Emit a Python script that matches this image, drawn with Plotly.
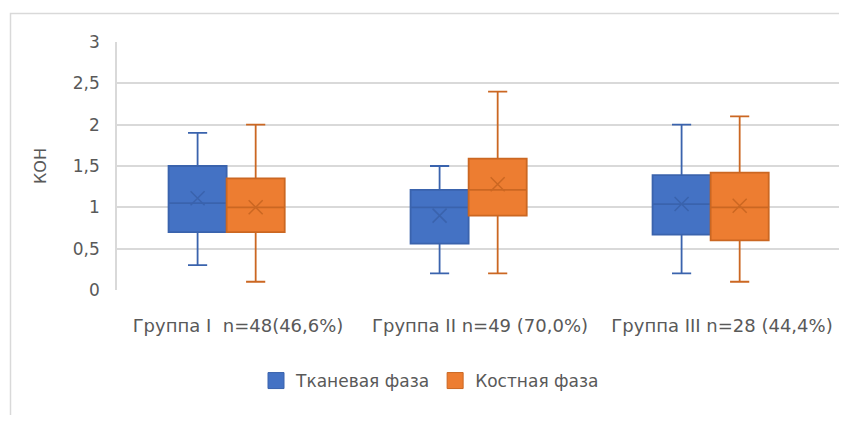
import plotly.graph_objects as go

groups = ["Группа I  n=48(46,6%)", "Группа II n=49 (70,0%)", "Группа III n=28 (44,4%)"]
series_names = ["Тканевая фаза", "Костная фаза"]

tissue_lower = [0.3, 0.2, 0.2]
tissue_q1 = [0.7, 0.56, 0.67]
tissue_median = [1.05, 1.0, 1.04]
tissue_q3 = [1.5, 1.21, 1.39]
tissue_upper = [1.9, 1.5, 2.0]
tissue_mean = [1.11, 0.9, 1.04]

bone_lower = [0.1, 0.2, 0.1]
bone_q1 = [0.7, 0.9, 0.6]
bone_median = [1.0, 1.21, 1.0]
bone_q3 = [1.35, 1.59, 1.42]
bone_upper = [2.0, 2.4, 2.1]
bone_mean = [1.0, 1.28, 1.02]

y_ticks = [0, 0.5, 1, 1.5, 2, 2.5, 3]

FONT = "DejaVu Sans"
TXT = "#595959"
GRID = "#D9D9D9"

series = [
    dict(name=series_names[0], lower=tissue_lower, q1=tissue_q1, med=tissue_median,
         q3=tissue_q3, upper=tissue_upper, mean=tissue_mean,
         fill="#4472C4", line="#3A63AD", off=-0.167),
    dict(name=series_names[1], lower=bone_lower, q1=bone_q1, med=bone_median,
         q3=bone_q3, upper=bone_upper, mean=bone_mean,
         fill="#ED7D31", line="#CB6722", off=0.073),
]

fig = go.Figure()
for s in series:
    xs = [i + s["off"] for i in range(len(groups))]
    fig.add_trace(go.Box(
        name=s["name"], x=xs, q1=s["q1"], median=s["med"], q3=s["q3"],
        lowerfence=s["lower"], upperfence=s["upper"],
        width=0.24, whiskerwidth=0.33, fillcolor=s["fill"],
        line=dict(color=s["line"], width=1.8), boxpoints=False,
        showlegend=False, hoverinfo="skip",
    ))
    fig.add_trace(go.Scatter(
        x=xs, y=s["mean"], mode="markers", showlegend=False,
        marker=dict(symbol="x-thin-open", size=14, color=s["line"],
                    line=dict(color=s["line"], width=1.5)),
        hoverinfo="skip",
    ))
    # legend entry (square swatch)
    fig.add_trace(go.Scatter(
        x=[None], y=[None], mode="markers", name=s["name"],
        marker=dict(symbol="square", size=16, color=s["fill"],
                    line=dict(color=s["line"], width=1)),
    ))

OFF = 8  # page body margin
W, H = 847 - 2 * OFF, 423 - 2 * OFF
L, T, B = 117 - OFF, 42 - OFF, 290 - OFF
R = W
CAT_PX = 242.0  # pixels per category
pw, ph = R - L, B - T
x_hi = -0.5 + pw / CAT_PX


def px_x(p):
    return (p - OFF - L) / pw


def px_y(p):
    return (B - (p - OFF)) / ph


fig.update_layout(
    width=W, height=H,
    margin=dict(l=L, r=0, t=T, b=H - B),
    paper_bgcolor="white", plot_bgcolor="white",
    separators=", ",
    boxmode="overlay",
    font=dict(family=FONT, color=TXT, size=17),
    xaxis=dict(
        range=[-0.5, x_hi], tickvals=[0, 1, 2], ticktext=groups,
        showgrid=False, zeroline=False, showline=False,
        ticks="outside", ticklen=19, tickcolor="rgba(0,0,0,0)",
        tickfont=dict(size=18, color=TXT, family=FONT),
    ),
    yaxis=dict(
        range=[0, 3], tickvals=y_ticks, showgrid=True, gridcolor=GRID, gridwidth=1.5,
        zeroline=False, showline=True, linecolor=GRID, linewidth=1.5,
        ticks="outside", ticklen=12, tickcolor="rgba(0,0,0,0)",
        tickfont=dict(size=17, color=TXT, family=FONT),
    ),
    legend=dict(
        orientation="h", x=px_x(430), xanchor="center",
        y=px_y(381), yanchor="middle",
        font=dict(size=17, color=TXT, family=FONT),
        itemsizing="trace",
    ),
    annotations=[dict(
        text="КОН", textangle=-90, xref="paper", yref="paper",
        x=px_x(40), y=px_y(166), xanchor="center", yanchor="middle",
        showarrow=False,
        font=dict(size=16, color=TXT, family=FONT),
    )],
    shapes=[dict(
        type="rect", xref="paper", yref="paper", layer="below",
        x0=px_x(10.5), x1=px_x(880),
        y0=px_y(460), y1=px_y(13.5),
        line=dict(color=GRID, width=1.5), fillcolor="rgba(0,0,0,0)",
    )],
)

fig.write_html("out.html")
